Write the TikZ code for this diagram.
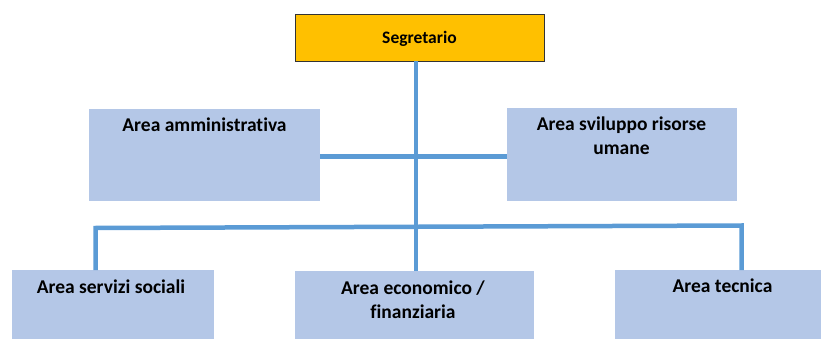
\documentclass[tikz,border=0pt]{standalone}
\usepackage{fontspec}
\setmainfont{Carlito}[Ligatures=NoCommon]
\definecolor{areablue}{HTML}{B4C7E7}
\definecolor{linkblue}{HTML}{5B9BD5}
\definecolor{headgold}{HTML}{FFC000}
\tikzset{
  areabox/.style={fill=areablue, inner sep=0pt, anchor=north west},
  arealabel/.style={font=\fontsize{19.5}{24}\selectfont\bfseries, align=center, anchor=base, inner sep=0pt},
  link/.style={draw=linkblue, line width=4.5pt}
}
\begin{document}
\begin{tikzpicture}[x=1pt,y=-1pt]
  \useasboundingbox (0,0) rectangle (821,339);
%   \draw[gray!30] (0,0) grid[step=50] (821,339);
  % boxes
  \node[areabox, fill=headgold, draw=black!80, line width=0.8pt, minimum width=249pt, minimum height=47pt] (seg) at (295,14) {};
  \node[areabox, minimum width=231pt, minimum height=92pt] (amm) at (89,109) {};
  \node[areabox, minimum width=230pt, minimum height=93pt] (svil) at (507,107.5) {};
  \node[areabox, minimum width=202pt, minimum height=69pt] (serv) at (12,270) {};
  \node[areabox, minimum width=239pt, minimum height=68pt] (eco) at (295,271) {};
  \node[areabox, minimum width=206pt, minimum height=69pt] (tec) at (615,270) {};

  % labels (base = last line)
  \node[arealabel, font=\fontsize{17.5}{21}\selectfont\bfseries] (segtxt) at (419.5,44) {Segretario};
  \node[arealabel] (ammtxt) at (204.5,131.7) {Area amministrativa};
  \node[arealabel] (sviltxt) at (621.5,155) {Area sviluppo risorse\\umane};
  \node[arealabel] (servtxt) at (111,293.5) {Area servizi sociali};
  \node[arealabel] (ecotxt) at (413,318.5) {Area economico /\\finanziaria};
  \node[arealabel] (tectxt) at (722.5,292.7) {Area tecnica};

  % connectors
  \coordinate (top) at (416,61);
  \coordinate (mid) at (416,156.5);
  \coordinate (bus) at (416,227);
  \coordinate (busl) at (95.5,228);
  \coordinate (busr) at (741.5,225.5);
  \draw[link] (top)--(mid)--(bus)--(eco.north -| bus); % trunk
  \draw[link] (amm.east |- mid)--(svil.west |- mid); % staff line
  \draw[link] (busl |- serv.north)--(busl)--(busr)--(busr |- tec.north); % bus
\end{tikzpicture}
\end{document}
